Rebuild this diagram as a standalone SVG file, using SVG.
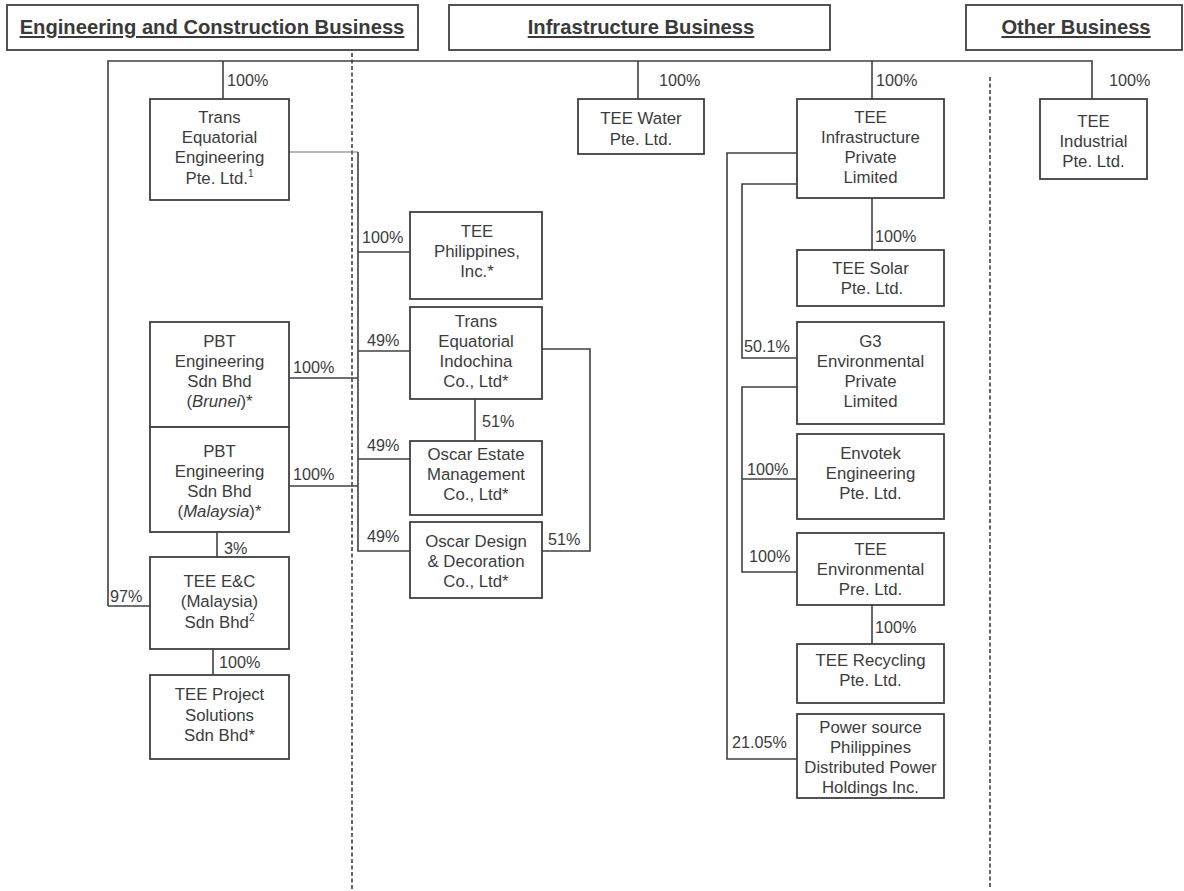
<svg xmlns="http://www.w3.org/2000/svg" width="1184" height="891" viewBox="0 0 1184 891">
<style>
  .box { fill: #ffffff; stroke: #404040; stroke-width: 1.8; }
  .hdr { fill: #ffffff; stroke: #404040; stroke-width: 1.8; }
  .ht { font-family: "Liberation Sans", Arial, sans-serif; font-size: 20.2px; font-weight: bold; fill: #3a3a3a; text-anchor: middle; text-decoration: underline; }
  .t { font-family: "Liberation Sans", Arial, sans-serif; font-size: 16.8px; fill: #3c3c3c; text-anchor: middle; }
  .p { font-family: "Liberation Sans", Arial, sans-serif; font-size: 16.2px; fill: #3c3c3c; }
  .ln { fill: none; stroke: #404040; stroke-width: 1.6; }
  .thin { fill: none; stroke: #707070; stroke-width: 1.1; }
  .dash { fill: none; stroke: #404040; stroke-width: 1.6; stroke-dasharray: 4 2.5; }
  .sup { font-size: 10px; }
</style>
<rect width="1184" height="891" fill="#ffffff"/>

<g id="headers">
  <g id="hdr-ec"><rect class="hdr" x="7" y="5" width="411" height="45"/><text class="ht" x="212" y="34">Engineering and Construction Business</text></g>
  <g id="hdr-infra"><rect class="hdr" x="449" y="5" width="381" height="45"/><text class="ht" x="641" y="34">Infrastructure Business</text></g>
  <g id="hdr-other"><rect class="hdr" x="966" y="5" width="216" height="45"/><text class="ht" x="1076" y="34">Other Business</text></g>
</g>

<g id="dividers">
  <path class="dash" d="M352,53 V889"/>
  <path class="dash" d="M990,77 V889"/>
</g>

<g id="connectors">
  <path class="ln" d="M108,606 V61 H1092 V99"/>
  <path class="ln" d="M108,606 H150"/>
  <path class="ln" d="M223,61 V99"/>
  <path class="ln" d="M638,61 V99"/>
  <path class="ln" d="M872,61 V99"/>
  <path class="thin" d="M289,152 H358"/>
  <path class="ln" d="M358,152 V551 H410"/>
  <path class="ln" d="M358,252 H410"/>
  <path class="ln" d="M358,351 H410"/>
  <path class="ln" d="M358,459 H410"/>
  <path class="ln" d="M289,378 H358"/>
  <path class="ln" d="M289,486 H358"/>
  <path class="ln" d="M542,349 H590 V551 H542"/>
  <path class="ln" d="M475,399 V441"/>
  <path class="ln" d="M217,532 V557"/>
  <path class="ln" d="M213,649 V675"/>
  <path class="ln" d="M797,153 H727 V759 H797"/>
  <path class="ln" d="M797,184 H742 V358 H797"/>
  <path class="ln" d="M797,387 H742 V572 H797"/>
  <path class="ln" d="M742,479 H797"/>
  <path class="ln" d="M872,198 V250"/>
  <path class="ln" d="M872,605 V644"/>
</g>

<g id="labels">
  <text class="p" x="227" y="86">100%</text>
  <text class="p" x="659" y="86">100%</text>
  <text class="p" x="876" y="86">100%</text>
  <text class="p" x="1109" y="86">100%</text>
  <text class="p" x="362" y="243">100%</text>
  <text class="p" x="367" y="346">49%</text>
  <text class="p" x="293" y="373">100%</text>
  <text class="p" x="367" y="451">49%</text>
  <text class="p" x="293" y="480">100%</text>
  <text class="p" x="367" y="542">49%</text>
  <text class="p" x="482" y="427">51%</text>
  <text class="p" x="548" y="545">51%</text>
  <text class="p" x="224" y="554">3%</text>
  <text class="p" x="110" y="602">97%</text>
  <text class="p" x="219" y="668">100%</text>
  <text class="p" x="875" y="242">100%</text>
  <text class="p" x="744" y="352">50.1%</text>
  <text class="p" x="747" y="475">100%</text>
  <text class="p" x="749" y="562">100%</text>
  <text class="p" x="875" y="633">100%</text>
  <text class="p" x="732" y="748">21.05%</text>
</g>

<g id="n-tee-eng">
  <rect class="box" x="150" y="99" width="139" height="101"/>
  <text class="t" x="219.5" y="123"><tspan x="219.5">Trans</tspan><tspan x="219.5" dy="20">Equatorial</tspan><tspan x="219.5" dy="20">Engineering</tspan><tspan x="219.5" dy="21">Pte. Ltd.<tspan class="sup" dy="-7">1</tspan></tspan></text>
</g>
<g id="n-pbt-brunei">
  <rect class="box" x="150" y="322" width="139" height="105"/>
  <text class="t" x="219.5" y="347"><tspan x="219.5">PBT</tspan><tspan x="219.5" dy="20">Engineering</tspan><tspan x="219.5" dy="20">Sdn Bhd</tspan><tspan x="219.5" dy="20">(<tspan font-style="italic">Brunei</tspan>)*</tspan></text>
</g>
<g id="n-pbt-malaysia">
  <rect class="box" x="150" y="427" width="139" height="105"/>
  <text class="t" x="219.5" y="457"><tspan x="219.5">PBT</tspan><tspan x="219.5" dy="20">Engineering</tspan><tspan x="219.5" dy="20">Sdn Bhd</tspan><tspan x="219.5" dy="20">(<tspan font-style="italic">Malaysia</tspan>)*</tspan></text>
</g>
<g id="n-tee-ec">
  <rect class="box" x="150" y="557" width="139" height="92"/>
  <text class="t" x="219.5" y="587"><tspan x="219.5">TEE E&amp;C</tspan><tspan x="219.5" dy="20">(Malaysia)</tspan><tspan x="219.5" dy="21">Sdn Bhd<tspan class="sup" dy="-7">2</tspan></tspan></text>
</g>
<g id="n-tee-project">
  <rect class="box" x="150" y="675" width="139" height="84"/>
  <text class="t" x="219.5" y="700"><tspan x="219.5">TEE Project</tspan><tspan x="219.5" dy="20.5">Solutions</tspan><tspan x="219.5" dy="20.5">Sdn Bhd*</tspan></text>
</g>

<g id="n-tee-phil">
  <rect class="box" x="410" y="212" width="132" height="87"/>
  <text class="t" x="477" y="237"><tspan x="477">TEE</tspan><tspan x="477" dy="20">Philippines,</tspan><tspan x="477" dy="20">Inc.*</tspan></text>
</g>
<g id="n-indochina">
  <rect class="box" x="410" y="307" width="132" height="92"/>
  <text class="t" x="476" y="327"><tspan x="476">Trans</tspan><tspan x="476" dy="20">Equatorial</tspan><tspan x="476" dy="20">Indochina</tspan><tspan x="476" dy="20">Co., Ltd*</tspan></text>
</g>
<g id="n-oscar-estate">
  <rect class="box" x="410" y="441" width="132" height="74"/>
  <text class="t" x="476" y="460"><tspan x="476">Oscar Estate</tspan><tspan x="476" dy="20">Management</tspan><tspan x="476" dy="20">Co., Ltd*</tspan></text>
</g>
<g id="n-oscar-design">
  <rect class="box" x="410" y="522" width="132" height="76"/>
  <text class="t" x="476" y="547"><tspan x="476">Oscar Design</tspan><tspan x="476" dy="20">&amp; Decoration</tspan><tspan x="476" dy="20">Co., Ltd*</tspan></text>
</g>

<g id="n-tee-water">
  <rect class="box" x="578" y="99" width="126" height="55"/>
  <text class="t" x="641" y="124"><tspan x="641">TEE Water</tspan><tspan x="641" dy="21">Pte. Ltd.</tspan></text>
</g>

<g id="n-tee-infra">
  <rect class="box" x="797" y="99" width="147" height="99"/>
  <text class="t" x="870.5" y="123"><tspan x="870.5">TEE</tspan><tspan x="870.5" dy="20">Infrastructure</tspan><tspan x="870.5" dy="20">Private</tspan><tspan x="870.5" dy="20">Limited</tspan></text>
</g>
<g id="n-tee-solar">
  <rect class="box" x="797" y="250" width="147" height="56"/>
  <text class="t" x="870.5" y="274"><tspan x="870.5">TEE Solar</tspan><tspan x="872" dy="20">Pte. Ltd.</tspan></text>
</g>
<g id="n-g3">
  <rect class="box" x="797" y="322" width="147" height="102"/>
  <text class="t" x="870.5" y="347"><tspan x="870.5">G3</tspan><tspan x="870.5" dy="20">Environmental</tspan><tspan x="870.5" dy="20">Private</tspan><tspan x="870.5" dy="20">Limited</tspan></text>
</g>
<g id="n-envotek">
  <rect class="box" x="797" y="434" width="147" height="85"/>
  <text class="t" x="870.5" y="459"><tspan x="870.5">Envotek</tspan><tspan x="870.5" dy="20">Engineering</tspan><tspan x="870.5" dy="20">Pte. Ltd.</tspan></text>
</g>
<g id="n-tee-env">
  <rect class="box" x="797" y="533" width="147" height="72"/>
  <text class="t" x="870.5" y="555"><tspan x="870.5">TEE</tspan><tspan x="870.5" dy="20">Environmental</tspan><tspan x="870.5" dy="20">Pre. Ltd.</tspan></text>
</g>
<g id="n-tee-recycling">
  <rect class="box" x="797" y="644" width="147" height="59"/>
  <text class="t" x="870.5" y="666"><tspan x="870.5">TEE Recycling</tspan><tspan x="870.5" dy="20">Pte. Ltd.</tspan></text>
</g>
<g id="n-power-source">
  <rect class="box" x="797" y="714" width="147" height="84"/>
  <text class="t" x="870.5" y="733"><tspan x="870.5">Power source</tspan><tspan x="870.5" dy="20">Philippines</tspan><tspan x="870.5" dy="20">Distributed Power</tspan><tspan x="870.5" dy="20">Holdings Inc.</tspan></text>
</g>

<g id="n-tee-industrial">
  <rect class="box" x="1040" y="99" width="107" height="80"/>
  <text class="t" x="1093.5" y="127"><tspan x="1093.5">TEE</tspan><tspan x="1093.5" dy="20">Industrial</tspan><tspan x="1093.5" dy="20">Pte. Ltd.</tspan></text>
</g>
</svg>
